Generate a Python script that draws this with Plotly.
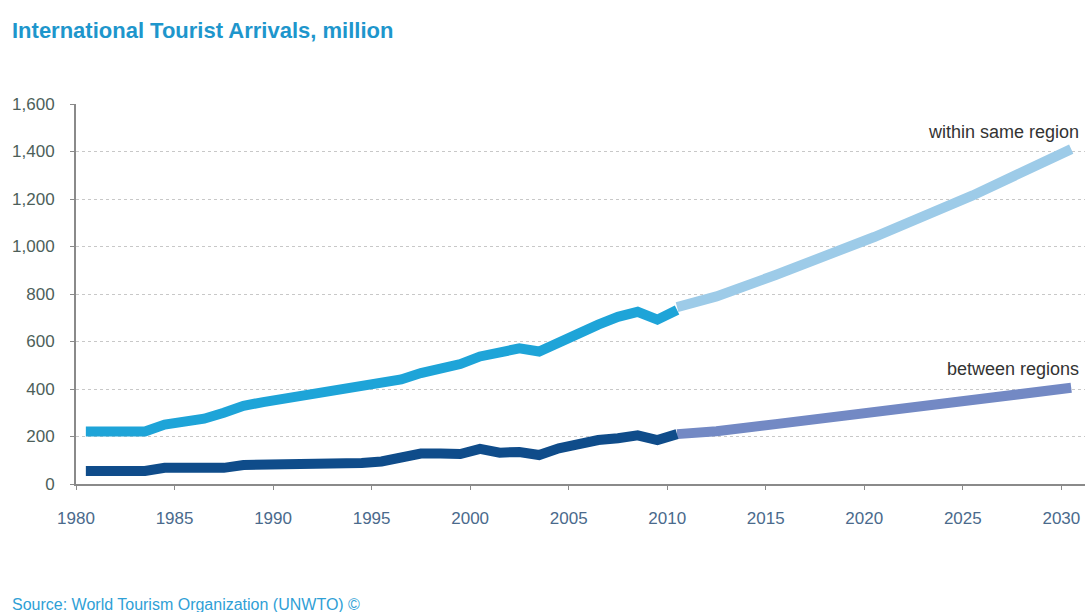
import plotly.graph_objects as go

# Historic data (1980-2010), million arrivals
hist_years = list(range(1980, 2011))
within_hist = [221, 221, 221, 221, 250, 262, 275, 300, 329, 345, 358, 371, 392, 402, 412,
               425, 440, 467, 483, 505, 537, 550, 571, 558, 600, 633, 671, 704, 725, 692, 733]
between_hist = [55, 55, 55, 55, 68, 68, 68, 68, 80, 80, 80, 80, 88, 88, 88,
                95, 110, 128, 128, 126, 148, 132, 135, 122, 150, 172, 185, 193, 205, 185, 210]

# Forecast (2010-2030)
proj_years = [2010, 2012, 2015, 2020, 2025, 2030]
within_proj = [745, 790, 880, 1040, 1215, 1410]
between_proj = [210, 222, 252, 300, 350, 405]

x_ticks = [1980, 1985, 1990, 1995, 2000, 2005, 2010, 2015, 2020, 2025, 2030]
y_ticks = [0, 200, 400, 600, 800, 1000, 1200, 1400, 1600]
y_tick_labels = ["0", "200", "400", "600", "800", "1,000", "1,200", "1,400", "1,600"]

OFFSET = 0.5  # values plotted at mid-year
FONT = "Liberation Sans Narrow, Arial Narrow, Liberation Sans, sans-serif"

def shift(ys):
    return [y + OFFSET for y in ys]

fig = go.Figure()
fig.add_trace(go.Scatter(x=shift(proj_years), y=within_proj, mode="lines",
                         line=dict(color="#9DCBE8", width=10), hoverinfo="skip"))
fig.add_trace(go.Scatter(x=shift(proj_years), y=between_proj, mode="lines",
                         line=dict(color="#7389C4", width=10), hoverinfo="skip"))
fig.add_trace(go.Scatter(x=shift(hist_years), y=within_hist, mode="lines",
                         line=dict(color="#1EA4D8", width=10), hoverinfo="skip"))
fig.add_trace(go.Scatter(x=shift(hist_years), y=between_hist, mode="lines",
                         line=dict(color="#0F4C8A", width=10), hoverinfo="skip"))

fig.update_layout(
    width=1091, height=612,
    margin=dict(l=76, r=6, t=104, b=128),
    paper_bgcolor="white", plot_bgcolor="white",
    showlegend=False,
    font=dict(family=FONT, size=15, color="#4d6273"),
    xaxis=dict(range=[1980, 2031.2], tickvals=x_ticks, ticktext=[str(t) for t in x_ticks],
               showgrid=False, zeroline=False, showline=True, linecolor="#8a8a8a", linewidth=2,
               ticks="outside", ticklen=4, tickcolor="#8a8a8a", ticklabelstandoff=14,
               tickfont=dict(family=FONT, size=17, color="#4a6a8c")),
    yaxis=dict(range=[0, 1600], tickvals=y_ticks, ticktext=y_tick_labels,
               showgrid=True, gridcolor="#c8c8c8", griddash="dot", gridwidth=1,
               zeroline=False, showline=True, linecolor="#8a8a8a", linewidth=2,
               ticks="outside", ticklen=4, tickcolor="#8a8a8a", ticklabelstandoff=12,
               tickfont=dict(family=FONT, size=17, color="#4d5f5a")),
    annotations=[
        dict(text="<b>International Tourist Arrivals, million</b>", xref="paper", yref="paper",
             x=-66/1009, y=1 + 74/380, xanchor="left", yanchor="middle", showarrow=False,
             font=dict(family=FONT, size=22, color="#1E96CC")),
        dict(text="within same region", x=2031.0, y=1400, xanchor="right", yanchor="bottom",
             yshift=8, showarrow=False, font=dict(family=FONT, size=18, color="#333333")),
        dict(text="between regions", x=2031.0, y=410, xanchor="right", yanchor="bottom",
             yshift=6, showarrow=False, font=dict(family=FONT, size=18, color="#333333")),
        dict(text="Source: World Tourism Organization (UNWTO) ©", xref="paper", yref="paper",
             x=-66/1009, y=-120/380, xanchor="left", yanchor="middle", showarrow=False,
             font=dict(family=FONT, size=16, color="#2FA0D6")),
    ],
)

fig.write_html("out.html")
